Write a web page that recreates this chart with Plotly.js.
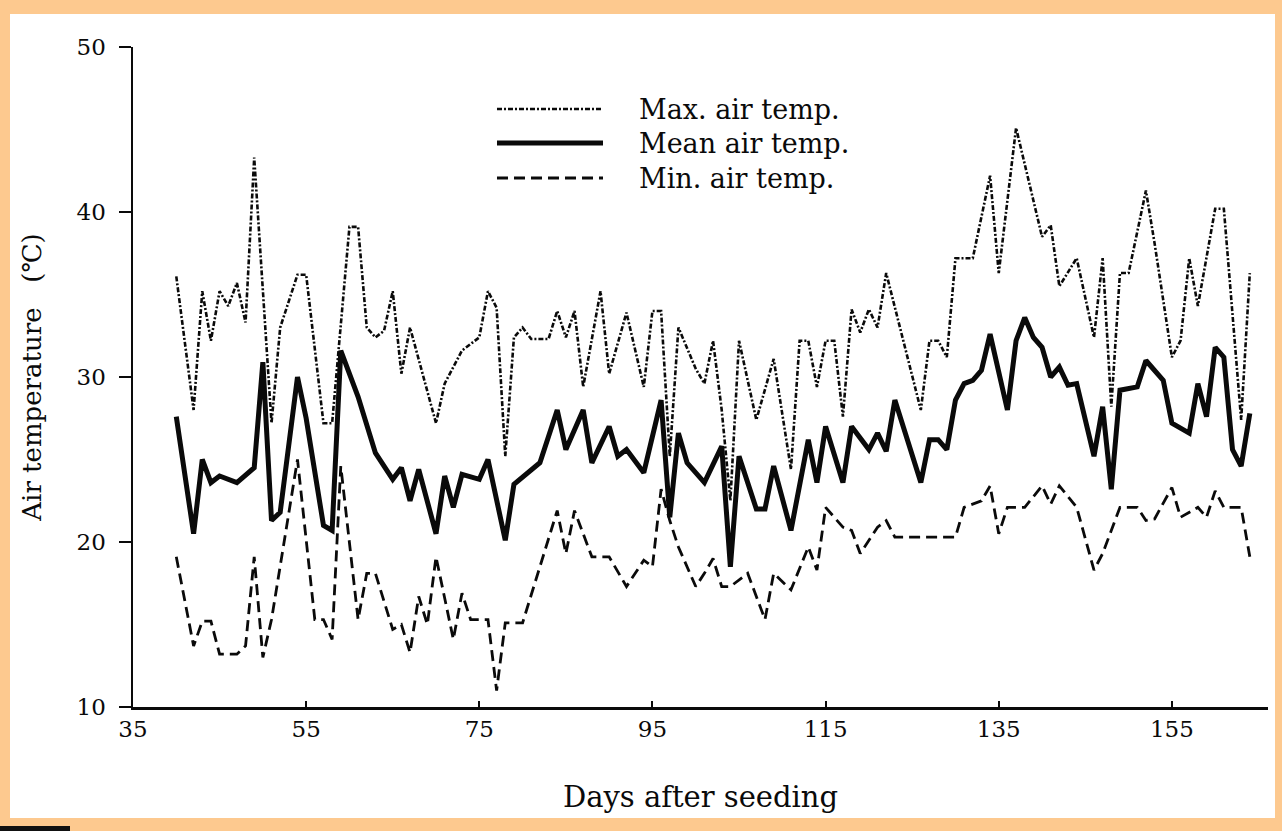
<!DOCTYPE html>
<html>
<head>
<meta charset="utf-8">
<script src="https://cdn.plot.ly/plotly-3.0.1.min.js"></script>
<style>
  html, body { margin: 0; padding: 0; }
  body { width: 1282px; height: 831px; background: #FDC98F; position: relative; overflow: hidden; }
  #chart { position: absolute; left: 10px; top: 14px; width: 1265px; height: 804px; background: #fff; }
  #mark { position: absolute; left: 0; top: 826px; width: 70px; height: 5px; background: #111; }
</style>
</head>
<body>
<div id="chart"></div>
<div id="mark"></div>
<script>
// ---- data ----
const maxDays = [40,42,43,44,45,46,47,48,49,51,52,54,55,57,58,60,61,62,63,64,65,66,67,70,71,73,75,76,77,78,79,80,81,83,84,85,86,87,89,90,92,94,95,96,97,98,100,101,102,103,104,105,107,109,111,112,113,114,115,116,117,118,119,120,121,122,126,127,128,129,130,132,134,135,137,140,141,142,144,146,147,148,149,150,152,153,155,156,157,158,160,161,163,164];
const maxTemp = [36.1,28.0,35.2,32.2,35.2,34.3,35.7,33.3,43.3,27.2,33.0,36.2,36.2,27.2,27.2,39.1,39.1,33.0,32.4,32.8,35.2,30.2,33.0,27.2,29.6,31.6,32.4,35.2,34.2,25.2,32.4,33.0,32.3,32.3,34.0,32.4,34.0,29.4,35.2,30.2,33.9,29.4,34.0,34.0,25.2,33.0,30.5,29.6,32.2,28.0,22.5,32.2,27.4,31.1,24.4,32.2,32.2,29.4,32.2,32.2,27.6,34.1,32.7,34.1,33.0,36.3,28.0,32.2,32.2,31.2,37.2,37.2,42.2,36.3,45.1,38.5,39.2,35.5,37.2,32.4,37.2,28.2,36.3,36.3,41.3,38.1,31.2,32.2,37.2,34.3,40.2,40.2,27.4,36.3];

const meanDays = [40,42,43,44,45,47,49,50,51,52,54,55,57,58,59,61,63,65,66,67,68,70,71,72,73,75,76,78,79,82,84,85,87,88,90,91,92,94,96,97,98,99,101,103,104,105,107,108,109,111,113,114,115,117,118,120,121,122,123,124,126,127,128,129,130,131,132,133,134,136,137,138,139,140,141,142,143,144,146,147,148,149,151,152,154,155,157,158,159,160,161,162,163,164];
const meanTemp = [27.6,20.5,25.0,23.6,24.0,23.6,24.5,30.9,21.3,21.8,30.0,27.5,21.0,20.7,31.6,28.8,25.4,23.8,24.5,22.5,24.4,20.5,24.0,22.1,24.1,23.8,25.0,20.1,23.5,24.8,28.0,25.6,28.0,24.8,27.0,25.2,25.6,24.2,28.6,21.5,26.6,24.8,23.6,25.8,18.5,25.2,22.0,22.0,24.6,20.7,26.2,23.6,27.0,23.6,27.0,25.6,26.6,25.5,28.6,27.0,23.6,26.2,26.2,25.6,28.6,29.6,29.8,30.4,32.6,28.0,32.2,33.6,32.4,31.8,30.0,30.6,29.5,29.6,25.2,28.2,23.2,29.2,29.4,31.0,29.8,27.2,26.6,29.6,27.6,31.8,31.2,25.6,24.6,27.8];

const minDays = [40,42,43,44,45,47,48,49,50,51,54,56,57,58,59,61,62,63,65,66,67,68,69,70,72,73,74,76,77,78,80,84,85,86,88,90,92,94,95,96,97,98,100,101,102,103,104,106,108,109,111,113,114,115,117,118,119,121,122,123,130,131,133,134,135,136,138,140,141,142,144,146,147,149,151,152,153,155,156,158,159,160,161,163,164];
const minTemp = [19.1,13.7,15.2,15.2,13.2,13.2,13.7,19.1,13.0,15.3,25.0,15.3,15.3,14.1,24.6,15.3,18.1,18.1,14.7,15.0,13.3,16.7,15.0,19.1,14.1,16.9,15.3,15.3,11.0,15.1,15.1,21.9,19.3,21.9,19.1,19.1,17.3,18.9,18.5,23.2,21.3,19.7,17.3,18.1,19.0,17.3,17.3,18.1,15.3,18.1,17.1,19.7,18.3,22.1,20.9,20.7,19.3,20.9,21.3,20.3,20.3,22.1,22.5,23.4,20.5,22.1,22.1,23.4,22.3,23.4,22.1,18.3,19.3,22.1,22.1,21.3,21.4,23.3,21.5,22.1,21.5,23.1,22.1,22.1,19.1];

const xTicks = [35,55,75,95,115,135,155];
const yTicks = [10,20,30,40,50];
const seriesNames = ['Max. air temp.','Mean air temp.','Min. air temp.'];
const xTitle = 'Days after seeding';
const yTitle = 'Air temperature&nbsp;&nbsp;&nbsp;(℃)';

// ---- chart ----
const FONT = '"DejaVu Serif", "Liberation Serif", serif';
const INK = '#0a0a0a';
const dashes = ['5px,2px,2px,2px', 'solid', '11px,6px'];
const widths = [2.6, 5, 2.8];
const traces = [
  {x: maxDays, y: maxTemp, name: seriesNames[0], mode: 'lines', line: {color: INK, width: widths[0], dash: dashes[0]}},
  {x: meanDays, y: meanTemp, name: seriesNames[1], mode: 'lines', line: {color: INK, width: widths[1]}},
  {x: minDays, y: minTemp, name: seriesNames[2], mode: 'lines', line: {color: INK, width: widths[2], dash: dashes[2]}}
];

const legX0 = 0.3207, legX1 = 0.4141, legTx = 0.444;
const legY = [0.906, 0.8545, 0.8015];
const shapes = legY.map((y, i) => ({
  type: 'line', xref: 'paper', yref: 'paper', x0: legX0, x1: legX1, y0: y, y1: y,
  line: {color: INK, width: widths[i], dash: dashes[i]}
}));
const annotations = legY.map((y, i) => ({
  xref: 'paper', yref: 'paper', x: legTx, y: y, xanchor: 'left', yanchor: 'middle',
  text: seriesNames[i], showarrow: false, font: {family: FONT, size: 27, color: INK}
}));

const layout = {
  width: 1265, height: 804,
  margin: {l: 123, r: 7, t: 33, b: 111},
  paper_bgcolor: '#fff', plot_bgcolor: '#fff',
  showlegend: false,
  font: {family: FONT, color: INK},
  xaxis: {
    range: [35, 166.1], tickvals: xTicks, ticks: 'inside', ticklen: 6, tickwidth: 2, tickcolor: INK,
    showline: true, linecolor: INK, linewidth: 2.5, showgrid: false, zeroline: false,
    tickfont: {family: FONT, size: 23, color: INK}, ticklabelstandoff: 0,
    title: {text: xTitle, font: {family: FONT, size: 29, color: INK}, standoff: 46}
  },
  yaxis: {
    range: [10, 50], tickvals: yTicks, ticks: 'outside', ticklen: 12, tickwidth: 2.5, tickcolor: INK,
    showline: true, linecolor: INK, linewidth: 2.5, showgrid: false, zeroline: false,
    tickfont: {family: FONT, size: 23, color: INK}, ticklabelstandoff: 8,
    title: {text: yTitle, font: {family: FONT, size: 26, color: INK}, standoff: 28}
  },
  shapes: shapes,
  annotations: annotations
};

Plotly.newPlot('chart', traces, layout, {displayModeBar: false, staticPlot: true});
</script>
</body>
</html>
